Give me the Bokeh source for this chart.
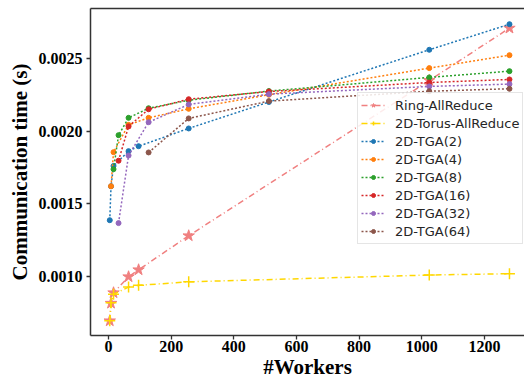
from bokeh.plotting import figure
from bokeh.models import (Range1d, FixedTicker, PrintfTickFormatter, LinearAxis,
                          Legend, LegendItem)
from bokeh.embed import file_html
from bokeh.resources import INLINE

# ---- data ----
ring_x = [4, 8, 16, 64, 96, 256, 1024, 1280]
ring_y = [0.000695, 0.000816, 0.000888, 0.000998, 0.001046, 0.001280, 0.002348, 0.002708]

torus_x = [4, 8, 16, 64, 96, 256, 1024, 1280]
torus_y = [0.000695, 0.000820, 0.000878, 0.000927, 0.000939, 0.000963, 0.001010, 0.001019]

tga2_x = [4, 8, 16, 64, 96, 256, 512, 1024, 1280]
tga2_y = [0.001387, 0.001620, 0.001760, 0.001862, 0.001896, 0.002018, 0.002200, 0.002559, 0.002735]

tga4_x = [8, 16, 64, 128, 256, 512, 1024, 1280]
tga4_y = [0.001621, 0.001855, 0.002043, 0.002091, 0.002153, 0.002250, 0.002433, 0.002522]

tga8_x = [16, 32, 64, 128, 256, 512, 1024, 1280]
tga8_y = [0.001738, 0.001972, 0.002091, 0.002157, 0.002212, 0.002275, 0.002369, 0.002412]

tga16_x = [32, 64, 128, 256, 512, 1024, 1280]
tga16_y = [0.001796, 0.002032, 0.002150, 0.002219, 0.002272, 0.002334, 0.002355]

tga32_x = [32, 64, 128, 256, 512, 1024, 1280]
tga32_y = [0.001367, 0.001832, 0.002061, 0.002183, 0.002254, 0.002307, 0.002323]

tga64_x = [128, 256, 512, 1024, 1280]
tga64_y = [0.001853, 0.002087, 0.002206, 0.002274, 0.002291]

x_ticks = [0, 200, 400, 600, 800, 1000, 1200]
y_ticks = [0.0010, 0.0015, 0.0020, 0.0025]

tga_series = [
    ("2D-TGA(2)", tga2_x, tga2_y, "#1f77b4"),
    ("2D-TGA(4)", tga4_x, tga4_y, "#ff7f0e"),
    ("2D-TGA(8)", tga8_x, tga8_y, "#2ca02c"),
    ("2D-TGA(16)", tga16_x, tga16_y, "#d62728"),
    ("2D-TGA(32)", tga32_x, tga32_y, "#9467bd"),
    ("2D-TGA(64)", tga64_x, tga64_y, "#8c564b"),
]

SERIF = "Liberation Serif"
SPINE = "#333333"

p = figure(width=524, height=382, output_backend="svg", toolbar_location=None,
           x_range=Range1d(-57.5, 1328), y_range=Range1d(0.000594, 0.002843),
           min_border_left=90, min_border_right=0, min_border_top=8, min_border_bottom=47)
p.outline_line_color = None
p.xgrid.visible = False
p.ygrid.visible = False
p.background_fill_color = "white"
p.border_fill_color = "white"

for ax in (p.xaxis[0], p.yaxis[0]):
    ax.axis_line_color = SPINE
    ax.axis_line_width = 1.5
    ax.major_tick_line_color = SPINE
    ax.major_tick_line_width = 1.3
    ax.major_tick_in = 0
    ax.major_tick_out = 4
    ax.minor_tick_line_color = None
    ax.major_label_text_font = SERIF
    ax.major_label_text_font_style = "bold"
    ax.major_label_text_font_size = "16px"
    ax.major_label_text_color = "black"
    ax.axis_label_text_font = SERIF
    ax.axis_label_text_font_style = "bold"
    ax.axis_label_text_font_size = "21px"
    ax.axis_label_text_color = "black"

p.xaxis[0].ticker = FixedTicker(ticks=x_ticks)
p.yaxis[0].ticker = FixedTicker(ticks=y_ticks)
p.yaxis[0].formatter = PrintfTickFormatter(format="%.4f")
p.xaxis[0].axis_label = "#Workers"
p.yaxis[0].axis_label = "Communication time (s)"
p.xaxis[0].major_label_standoff = 1
p.xaxis[0].axis_label_standoff = 0
p.yaxis[0].major_label_standoff = 4
p.yaxis[0].axis_label_standoff = 4

top = LinearAxis(axis_line_color=SPINE, axis_line_width=1.5,
                 major_tick_line_color=None, minor_tick_line_color=None,
                 major_label_text_font_size="0px", major_label_standoff=0,
                 ticker=FixedTicker(ticks=[]))
p.add_layout(top, "above")

items = []
r1 = p.line(ring_x, ring_y, line_color="#F08080", line_width=1.5, line_dash="6 3 1 3")
r2 = p.scatter(ring_x, ring_y, marker="star", size=12, fill_color="#F08080",
               line_color="#F08080")
items.append(LegendItem(label="Ring-AllReduce", renderers=[r1, r2]))

t1 = p.line(torus_x, torus_y, line_color="#FFD700", line_width=1.5, line_dash="6 3 1 3")
t2 = p.scatter(torus_x, torus_y, marker="cross", size=11, line_color="#FFD700",
               line_width=1.5)
items.append(LegendItem(label="2D-Torus-AllReduce", renderers=[t1, t2]))

for name, xs, ys, col in tga_series:
    a = p.line(xs, ys, line_color=col, line_width=1.5, line_dash="2 2")
    b = p.scatter(xs, ys, marker="circle", size=5, fill_color=col, line_color=col)
    items.append(LegendItem(label=name, renderers=[a, b]))

legend = Legend(items=items, location=(267, 91), orientation="vertical",
                label_text_font="DejaVu Sans", label_text_font_size="13px",
                label_text_color="#262626", glyph_width=24, glyph_height=10,
                label_height=18, spacing=0, padding=3, margin=0, label_standoff=10,
                border_line_color="#cccccc", border_line_width=1,
                background_fill_color="white", background_fill_alpha=0.85)
p.add_layout(legend, "center")

open("out.html", "w").write(file_html(p, INLINE))
